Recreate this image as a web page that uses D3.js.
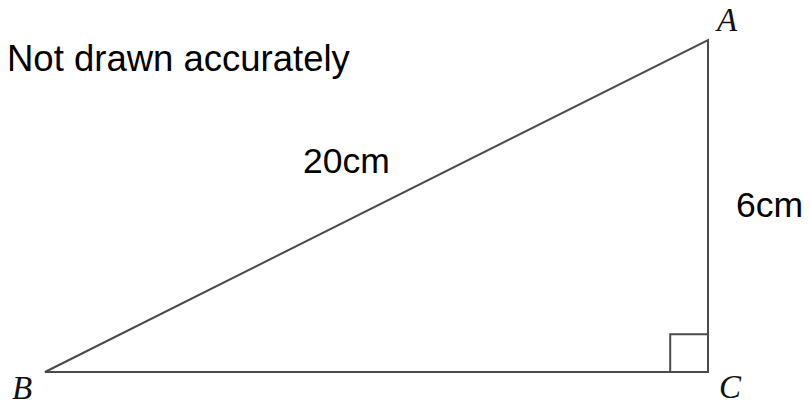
<!DOCTYPE html>
<html><head><meta charset="utf-8">
<script src="https://cdn.jsdelivr.net/npm/d3@7/dist/d3.min.js"></script>
<style>html,body{margin:0;padding:0;background:#fff;overflow:hidden}</style>
</head><body>
<svg id="c" width="810" height="405"></svg>
<script>
// Data (unit triangle space)
const vertexNames = ["B", "C", "A"];
const vertexX = [0, 1, 1];
const vertexY = [0, 0, 1];
const sideLabels = ["20cm", "6cm"];
const note = "Not drawn accurately";
const rightAngleSize = 0.057; // in x-units

const W = 810, H = 405;
const x = d3.scaleLinear().domain([0, 1]).range([45, 708]);
const y = d3.scaleLinear().domain([0, 1]).range([372, 40]);
const svg = d3.select("#c");

const pts = vertexNames.map((n, i) => ({name: n, x: vertexX[i], y: vertexY[i]}));
const line = d3.line().x(d => x(d.x)).y(d => y(d.y));

svg.append("path")
  .attr("d", line(pts) + "Z")
  .attr("fill", "none")
  .attr("stroke", "#4a4a4a")
  .attr("stroke-width", 2)
  .attr("stroke-linejoin", "miter");

// right angle marker at C
const c = pts[1];
const s = x(rightAngleSize) - x(0);
svg.append("path")
  .attr("d", `M${x(c.x) - s},${y(c.y)} V${y(c.y) - s} H${x(c.x)}`)
  .attr("fill", "none")
  .attr("stroke", "#4a4a4a")
  .attr("stroke-width", 2);

// vertex labels
const labelPos = {B: [12, 399], C: [719, 398], A: [717, 31]};
svg.selectAll("text.v").data(pts).enter().append("text")
  .attr("class", "v")
  .attr("x", d => labelPos[d.name][0])
  .attr("y", d => labelPos[d.name][1])
  .attr("font-family", "Liberation Serif, Times New Roman, serif")
  .attr("font-style", "italic")
  .attr("font-size", 33)
  .attr("fill", "#111")
  .text(d => d.name);

const sans = "Liberation Sans, Arial, Helvetica, sans-serif";
svg.append("text").attr("x", 303).attr("y", 173)
  .attr("font-family", sans).attr("font-size", 35.5).attr("fill", "#000").text(sideLabels[0]);
svg.append("text").attr("x", 736).attr("y", 217)
  .attr("font-family", sans).attr("font-size", 35.5).attr("fill", "#000").text(sideLabels[1]);
svg.append("text").attr("x", 7).attr("y", 71)
  .attr("font-family", sans).attr("font-size", 36.5).attr("fill", "#000").text(note);
</script>
</body></html>
